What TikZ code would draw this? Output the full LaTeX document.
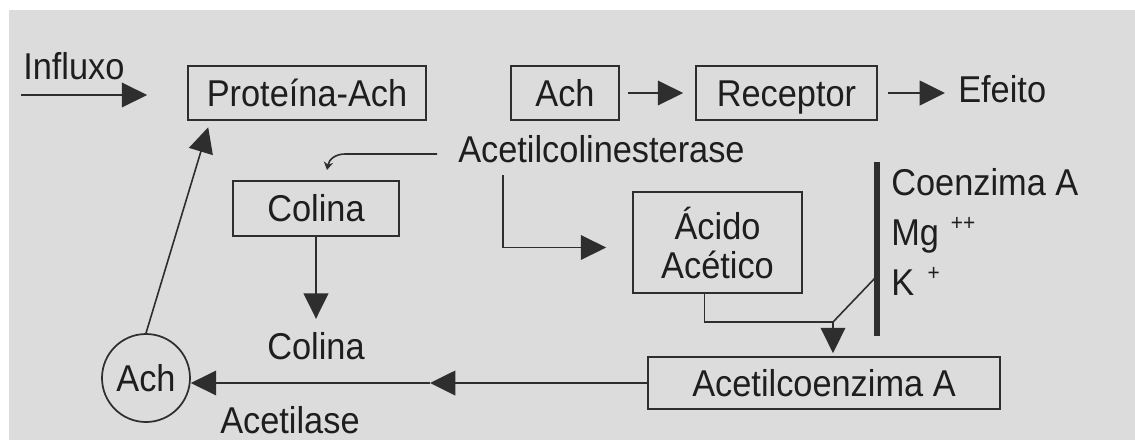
\documentclass[tikz,border=0pt]{standalone}
\usepackage{fontspec}
\setmainfont{Liberation Sans}[FakeStretch=0.92]
\usetikzlibrary{arrows.meta,calc}
\definecolor{bgc}{HTML}{DCDCDC}
\definecolor{linec}{HTML}{2E2E2E}
\definecolor{textc}{HTML}{1E1E1E}
\begin{document}
\begin{tikzpicture}[x=0.75pt,y=-0.75pt,
  every node/.style={text=textc,font=\fontsize{28}{29.25}\selectfont},
  box/.style={draw=linec,line width=1.3pt,inner sep=0pt,text height=20.2pt,text depth=0pt},
  txt/.style={inner sep=0pt},
  capt/.style={inner sep=0pt,text height=20.2pt,text depth=0pt},
  conn/.style={draw=linec,line width=1.2pt},
  arr/.style={conn,-{Triangle[length=19pt,width=18.5pt]}},
  smallarr/.style={conn,-{Stealth[length=6pt,width=7pt]}}]
\useasboundingbox (0,0) rectangle (1135,440);
\fill[white] (0,0) rectangle (1135,440);
\fill[bgc] (9,10) rectangle (1135,440);

% nodes
\node[box,minimum width=178.5pt,minimum height=40.5pt] (prot) at (307,93) {Proteína-Ach};
\node[box,minimum width=81pt,minimum height=40.5pt] (achbox) at (565,93) {Ach};
\node[box,minimum width=135.75pt,minimum height=40.5pt] (rec) at (786.5,93) {Receptor};
\node[capt,anchor=base west] (efeito) at (958,102) {Efeito};
\node[txt,anchor=base west] (influxo) at (23,79) {Influxo};
\node[txt,anchor=base west] (ache) at (458,162) {Acetilcolinesterase};
\node[box,minimum width=124.5pt,minimum height=41.25pt] (colina) at (316,208.5) {Colina};
\node[capt,anchor=base] (colina2) at (316,359) {Colina};
\node[draw=linec,line width=1.3pt,circle,inner sep=0pt,minimum size=66pt,text height=20.2pt,text depth=0pt] (circ) at (146,378) {Ach};
\node[draw=linec,line width=1.3pt,inner sep=0pt,minimum width=126.75pt,minimum height=75.75pt,align=center] (acido) at (717.5,242.5) {Ácido\\Acético};
\node[box,minimum width=264pt,minimum height=39pt] (acoa) at (824,383) {Acetilcoenzima A};
\node[txt,anchor=base west] (acetilase) at (220,433) {Acetilase};
\node[txt,anchor=base west] (coa) at (891,195) {Coenzima A};
\node[txt,anchor=base west] (mg) at (891,245) {Mg\hspace{9pt}\raisebox{11pt}{\fontsize{17}{17}\selectfont ++}};
\node[txt,anchor=base west] (kion) at (891,295) {K\hspace{10pt}\raisebox{11pt}{\fontsize{17}{17}\selectfont +}};

% coordinates
\coordinate (inS) at (21,95);
\coordinate (c1) at (437,154);
\coordinate (a1) at (503,175);
\coordinate (barT) at (877,162);
\coordinate (barB) at (877,336);
\coordinate (kpt) at (876,277);
\coordinate (elbow) at (833,322);
\coordinate (mid) at (430,383);

% connectors
\draw[arr,shorten >=30pt] (inS) -- (inS -| prot.west);
\draw[arr,shorten <=6pt,shorten >=9pt] (achbox.east) -- (rec.west);
\draw[arr,shorten <=7.5pt,shorten >=9.75pt] (rec.east) -- (rec.east -| efeito.west);
\draw[smallarr] (c1) -- (345,154) .. controls (336,154) and (329,159) .. (327,170);
\draw[arr,shorten >=9.75pt] (colina.south) -- (colina2.north);
\draw[arr,shorten >=19.5pt] (a1) |- ($(acido.west)+(0,5)$);
\draw[line width=4.5pt,linec] (barT) -- (barB);
\draw[conn] ($(acido.south)+(-13,0)$) |- (elbow);
\draw[conn] (kpt) -- (elbow);
\draw[arr,shorten >=2.25pt] (elbow) -- (elbow |- acoa.north);
\draw[arr] (acoa.west) -- (mid);
\draw[arr] (mid) -- (mid -| circ.east);
\draw[arr,shorten >=5pt] (circ.north) -- ($(prot.south west)+(23,0)$);
\end{tikzpicture}
\end{document}
